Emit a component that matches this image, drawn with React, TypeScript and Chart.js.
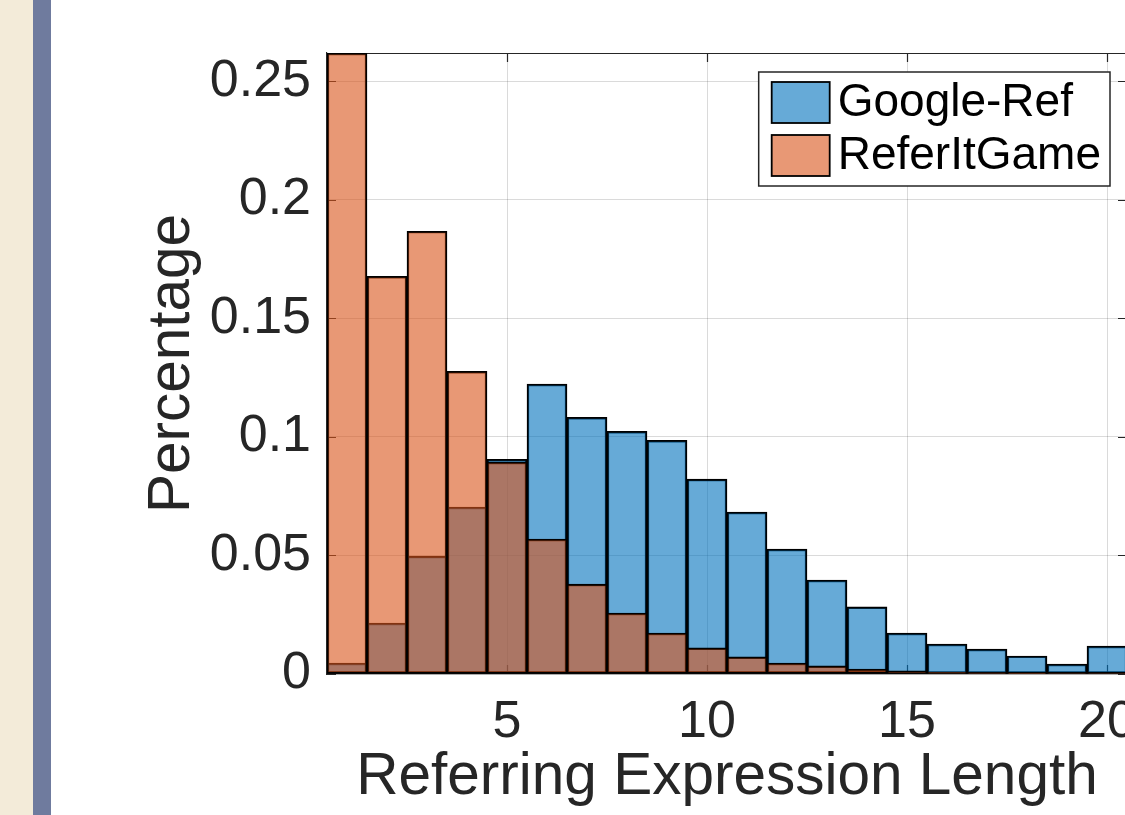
import React, { useEffect, useRef } from "react";
import { Chart, registerables } from "chart.js";

Chart.register(...registerables);

// ---- data ----
const lengths = [1, 2, 3, 4, 5, 6, 7, 8, 9, 10, 11, 12, 13, 14, 15, 16, 17, 18, 19, 20];
const googleRef = [
  0.0046, 0.0215, 0.0497, 0.0704, 0.0906, 0.1223, 0.1083, 0.1024, 0.0986, 0.0822,
  0.0683, 0.0527, 0.0396, 0.0283, 0.0173, 0.0126, 0.0105, 0.0076, 0.0042, 0.0118,
];
const referItGame = [
  0.262, 0.1678, 0.1868, 0.1277, 0.0894, 0.0569, 0.0379, 0.0257, 0.0173, 0.011,
  0.0072, 0.0046, 0.0034, 0.0021, 0.0013, 0.0008, 0.0005, 0.0003, 0.0002, 0.0002,
];
const seriesNames = ["Google-Ref", "ReferItGame"];
const xTicks = [5, 10, 15, 20];
const yTicks = [0, 0.05, 0.1, 0.15, 0.2, 0.25];
const yTickLabels = ["0", "0.05", "0.1", "0.15", "0.2", "0.25"];
const xTitle = "Referring Expression Length";
const yTitle = "Percentage";

// ---- styles ----
const FONT = "'Liberation Sans', Arial, Helvetica, sans-serif";
const TEXT = "#262626";
const AXIS = "#262626";
const GRID = "rgba(38,38,38,0.17)";
const BLUE = "rgba(0,114,189,0.6)";
const ORANGE = "rgba(217,83,25,0.6)";
const TICK = 9;
const CANVAS_W = 1170;

const framePlugin = {
  id: "matlabFrame",
  beforeDatasetsDraw(chart: any) {
    const { ctx, chartArea, scales } = chart;
    const { left, right, top, bottom } = chartArea;
    const x = scales.x;
    const y = scales.y;
    ctx.save();
    ctx.strokeStyle = AXIS;
    ctx.lineWidth = 1.2;
    ctx.beginPath();
    ctx.moveTo(left, top + 0.5);
    ctx.lineTo(right, top + 0.5);
    ctx.moveTo(right - 0.5, top);
    ctx.lineTo(right - 0.5, bottom);
    xTicks.forEach((v) => {
      const px = Math.round(x.getPixelForValue(v)) + 0.5;
      ctx.moveTo(px, top);
      ctx.lineTo(px, top + TICK);
      ctx.moveTo(px, bottom);
      ctx.lineTo(px, bottom - TICK);
    });
    yTicks.forEach((v) => {
      const py = Math.round(y.getPixelForValue(v)) + 0.5;
      ctx.moveTo(left, py);
      ctx.lineTo(left + TICK, py);
      ctx.moveTo(right, py);
      ctx.lineTo(right - TICK, py);
    });
    ctx.stroke();
    ctx.restore();
  },
  afterDatasetsDraw(chart: any) {
    const { ctx, chartArea } = chart;
    const { right, top } = chartArea;
    const fontSize = 46;
    ctx.save();
    ctx.font = `${fontSize}px ${FONT}`;
    const textW = Math.max(...seriesNames.map((n) => ctx.measureText(n).width));
    const padL = 13, patchW = 58, patchH = 41, gap = 8, padR = 9, padT = 10, rowGap = 12;
    const boxW = padL + patchW + gap + textW + padR;
    const boxH = padT * 2 + patchH * 2 + rowGap;
    const boxR = right - 17;
    const boxL = boxR - boxW;
    const boxT = top + 19;
    ctx.fillStyle = "#ffffff";
    ctx.fillRect(boxL, boxT, boxW, boxH);
    ctx.strokeStyle = AXIS;
    ctx.lineWidth = 1.5;
    ctx.strokeRect(boxL, boxT, boxW, boxH);
    const colors = chart.data.datasets.map((d: any) => d.backgroundColor);
    seriesNames.forEach((name, i) => {
      const py = boxT + padT + i * (patchH + rowGap);
      ctx.fillStyle = colors[i];
      ctx.fillRect(boxL + padL, py, patchW, patchH);
      ctx.strokeStyle = "#000";
      ctx.lineWidth = 1.8;
      ctx.strokeRect(boxL + padL, py, patchW, patchH);
      ctx.fillStyle = "#000";
      ctx.textBaseline = "middle";
      ctx.textAlign = "left";
      ctx.fillText(name, boxL + padL + patchW + gap, py + patchH / 2 + 1);
    });
    ctx.restore();
  },
};

export default function App() {
  const canvasRef = useRef<HTMLCanvasElement | null>(null);

  useEffect(() => {
    const canvas = canvasRef.current;
    if (!canvas) return;
    const barCommon = {
      borderColor: "#000",
      borderWidth: 1.8,
      borderSkipped: false,
      grouped: false,
      barPercentage: 1,
      categoryPercentage: 1,
    };
    const chart = new Chart(canvas, {
      type: "bar",
      data: {
        datasets: [
          {
            ...barCommon,
            label: seriesNames[0],
            data: lengths.map((x, i) => ({ x, y: googleRef[i] })),
            backgroundColor: BLUE,
            order: 2,
          },
          {
            ...barCommon,
            label: seriesNames[1],
            data: lengths.map((x, i) => ({ x, y: referItGame[i] })),
            backgroundColor: ORANGE,
            order: 1,
          },
        ] as any,
      },
      options: {
        responsive: false,
        animation: false,
        events: [],
        layout: { padding: { top: 53, right: CANVAS_W - 1127, left: 0, bottom: 0 } },
        plugins: {
          legend: { display: false },
          tooltip: { enabled: false },
        },
        scales: {
          x: {
            type: "linear",
            min: 0.5,
            max: 20.5,
            offset: false,
            afterBuildTicks: (s: any) => {
              s.ticks = xTicks.map((v) => ({ value: v }));
            },
            afterFit: (s: any) => {
              s.height = 141;
            },
            ticks: {
              autoSkip: false,
              maxRotation: 0,
              padding: 17,
              color: TEXT,
              font: { family: FONT, size: 52, lineHeight: 1.2 },
              callback: (v: any) => String(v),
            },
            grid: { color: GRID, lineWidth: 1, drawTicks: false, offset: false },
            border: { display: true, color: AXIS, width: 1.2 },
            title: {
              display: true,
              text: xTitle,
              color: TEXT,
              font: { family: FONT, size: 58.5, lineHeight: 1 },
              padding: { top: 0, bottom: 8 },
            },
          },
          y: {
            type: "linear",
            min: 0,
            max: 0.262,
            afterBuildTicks: (s: any) => {
              s.ticks = yTicks.map((v) => ({ value: v }));
            },
            afterFit: (s: any) => {
              s.width = 327;
            },
            ticks: {
              autoSkip: false,
              padding: 16,
              color: TEXT,
              font: { family: FONT, size: 52, lineHeight: 1.2 },
              callback: (_v: any, i: number) => yTickLabels[i],
            },
            grid: { color: GRID, lineWidth: 1, drawTicks: false },
            border: { display: true, color: AXIS, width: 1.2 },
            title: {
              display: true,
              text: yTitle,
              color: TEXT,
              font: { family: FONT, size: 58.5, lineHeight: 1 },
              padding: { top: 144, bottom: 0 },
            },
          },
        },
      } as any,
      plugins: [framePlugin],
    });
    return () => chart.destroy();
  }, []);

  return (
    <div
      style={{
        position: "absolute",
        left: 0,
        top: 0,
        width: 1125,
        height: 815,
        overflow: "hidden",
        background: "#ffffff",
      }}
    >
      <div style={{ position: "absolute", left: 0, top: 0, width: 33, height: 815, background: "#F3EBD9" }} />
      <div style={{ position: "absolute", left: 33, top: 0, width: 18, height: 815, background: "#6F7B9E" }} />
      <canvas
        ref={canvasRef}
        width={CANVAS_W}
        height={815}
        style={{ position: "absolute", left: 0, top: 0, width: CANVAS_W, height: 815 }}
      />
    </div>
  );
}
